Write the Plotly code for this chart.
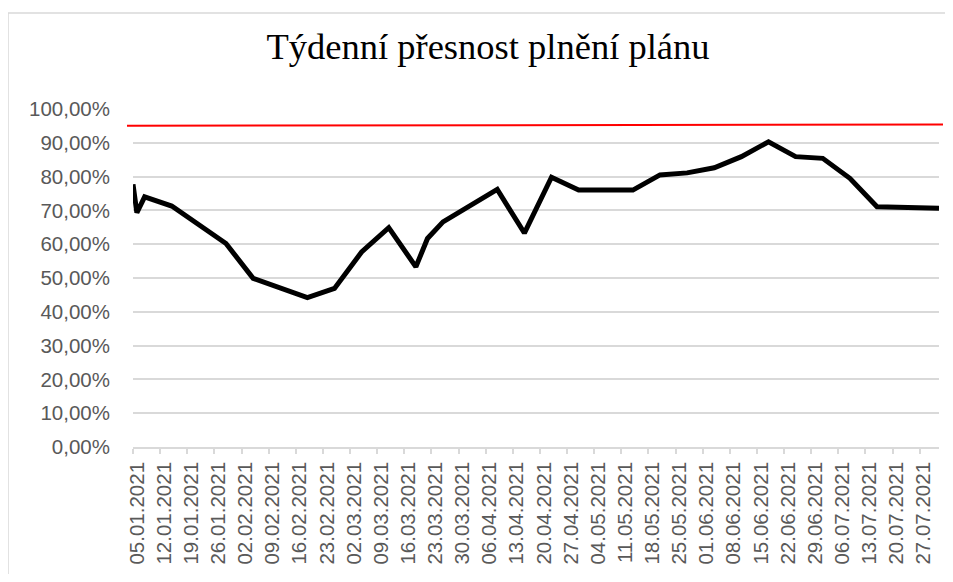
import plotly.graph_objects as go

# ---- data ----
dates = ["2021-01-05", "2021-01-06", "2021-01-08", "2021-01-15", "2021-01-29",
         "2021-02-05", "2021-02-19", "2021-02-26", "2021-03-05", "2021-03-12",
         "2021-03-19", "2021-03-22", "2021-03-26", "2021-04-09", "2021-04-16",
         "2021-04-23", "2021-04-30", "2021-05-14", "2021-05-21", "2021-05-28",
         "2021-06-04", "2021-06-11", "2021-06-18", "2021-06-25", "2021-07-02",
         "2021-07-09", "2021-07-16", "2021-08-01"]
accuracy = [0.777, 0.693, 0.740, 0.713, 0.602,
            0.499, 0.442, 0.469, 0.577, 0.649,
            0.533, 0.617, 0.666, 0.762, 0.633,
            0.798, 0.760, 0.760, 0.805, 0.811,
            0.826, 0.859, 0.903, 0.859, 0.854,
            0.795, 0.711, 0.706]
target = [0.9505, 0.954]  # red target line (left end, right end)

title_text = "Týdenní přesnost plnění plánu"
tick_first = "2021-01-05"
axis_end = "2021-08-01"
y_ticks = [i / 10 for i in range(11)]

# page body adds an 8px margin; positions below are window pixels
OFF = 8
WIN_W, WIN_H = 953, 582
W, H = WIN_W - 2 * OFF, WIN_H - 2 * OFF   # keep the page from overflowing
PL, PR, PT, PB = 133, 939, 109, 447       # plot area in window pixels
L = PL - OFF
T = PT - OFF
R = W - (PR - OFF)
B = H - (PB - OFF)
pw = PR - PL
ph = PB - PT

def px_x(p):
    return (p - PL) / pw

def px_y(p):
    return (PB - p) / ph

grid = "#d9d9d9"
label_color = "#595959"
tick_font = dict(family="Liberation Sans, Arial, sans-serif", size=20.5, color=label_color)

fig = go.Figure()
fig.add_trace(go.Scatter(
    x=dates, y=accuracy, mode="lines",
    line=dict(color="black", width=5),
    showlegend=False, hoverinfo="x+y",
))

fig.update_layout(
    width=W, height=H,
    margin=dict(l=L, r=R, t=T, b=B, pad=0),
    paper_bgcolor="white", plot_bgcolor="white",
    separators=", ",
    showlegend=False,
    title=dict(
        text=title_text,
        font=dict(family="Liberation Serif, Times New Roman, serif", size=36.5, color="black"),
        x=px_x(488), xref="paper", xanchor="center",
        y=1 - (46 - OFF) / H, yref="container", yanchor="middle",
    ),
    xaxis=dict(
        type="date",
        range=[tick_first, axis_end],
        tick0=tick_first, dtick=7 * 24 * 3600 * 1000,
        tickformat="%d.%m.%Y",
        tickangle=-90,
        tickfont=tick_font,
        ticks="outside", ticklen=5, tickwidth=1.5, tickcolor=grid,
        showline=True, linecolor=grid, linewidth=1.5,
        showgrid=False, zeroline=False,
        ticklabelshift=4,
    ),
    yaxis=dict(
        range=[0, 1],
        tickvals=y_ticks,
        tickformat=".2%",
        tickfont=tick_font,
        showgrid=True, gridcolor=grid, gridwidth=1.5,
        zeroline=False, showline=False,
        ticks="", ticklabelstandoff=22,
    ),
    shapes=[
        # outer chart border (top and left edges; the rest lies outside the window)
        dict(type="line", xref="paper", yref="paper",
             x0=px_x(8), x1=px_x(WIN_W), y0=px_y(13), y1=px_y(13),
             line=dict(color=grid, width=1.5), layer="below"),
        dict(type="line", xref="paper", yref="paper",
             x0=px_x(8), x1=px_x(8), y0=px_y(13), y1=px_y(WIN_H),
             line=dict(color=grid, width=1.5), layer="below"),
        # target line
        dict(type="line", xref="paper", yref="y",
             x0=px_x(127), x1=px_x(943), y0=target[0], y1=target[1],
             line=dict(color="#ff0000", width=2), layer="below"),
    ],
)

fig.write_html("out.html")
